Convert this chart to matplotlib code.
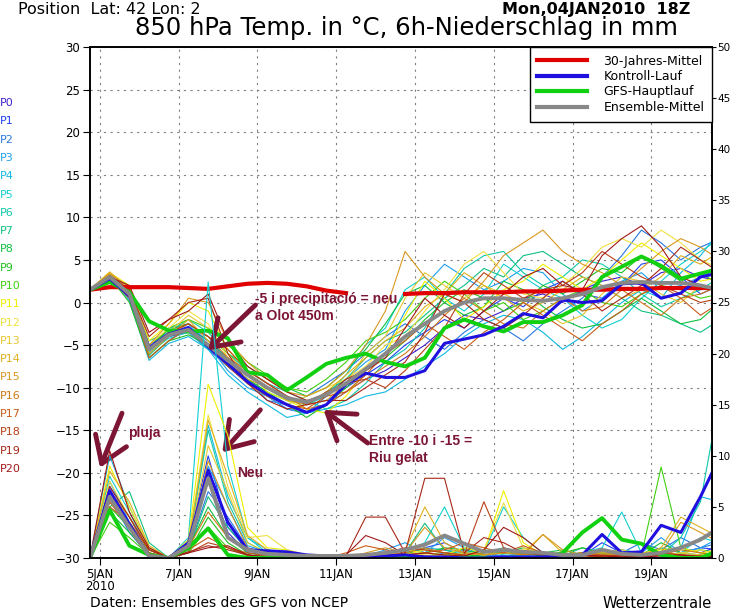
import numpy as np
import matplotlib
matplotlib.use("Agg")
import matplotlib.pyplot as plt
from matplotlib.lines import Line2D

# time axis: hours after 04JAN2010 18Z, 12-hourly
hours = np.arange(0, 385, 12)
tick_hours = [6, 54, 102, 150, 198, 246, 294, 342]
tick_labels = ["5JAN\n2010", "7JAN", "9JAN", "11JAN", "13JAN", "15JAN", "17JAN", "19JAN"]

# 850 hPa temperature (deg C)
clim_t = [1.5, 1.8, 1.8, 1.8, 1.8, 1.7, 1.6, 1.9, 2.2, 2.3, 2.2, 1.9, 1.4, 1.1, np.nan, np.nan,
          1.0, 1.1, 1.1, 1.2, 1.2, 1.2, 1.3, 1.3, 1.4, 1.5, 1.5, 1.6, 1.6, 1.7, 1.7, 1.7, 1.7]
ctrl_t = [1.5, 2.8, 0.8, -5.3, -3.7, -3.0, -5.2, -7.2, -9.3, -10.8, -12.0, -12.9, -12.0, -9.6, -8.3, -8.8,
          -8.8, -8.0, -4.8, -4.3, -3.8, -2.8, -1.3, -1.8, 0.3, 0.0, 0.2, 2.2, 2.3, 0.5, 1.1, 3.0, 3.5]
gfs_t = [1.5, 2.4, 1.2, -2.2, -3.3, -3.4, -3.3, -4.2, -8.2, -8.5, -10.3, -8.8, -7.2, -6.5, -6.0, -7.0,
         -7.5, -6.5, -3.0, -2.0, -2.8, -3.4, -2.3, -2.3, -1.5, -0.3, 3.0, 4.2, 5.4, 4.3, 2.8, 3.4, 4.0]
mean_t = [1.5, 3.0, 1.0, -5.5, -3.8, -3.2, -5.0, -6.8, -8.5, -10.0, -11.2, -11.7, -10.8, -9.5, -7.8, -6.0,
          -4.0, -2.5, -1.0, 0.0, 0.5, 0.5, 0.3, 0.2, 0.5, 1.0, 1.8, 2.3, 2.4, 2.3, 2.3, 2.0, 1.5]

members_t = [
    [1.5, 2.8, 0.5, -6.0, -4.0, -3.5, -5.5, -7.5, -9.5, -11.0, -12.5, -13.0, -12.0, -10.5, -9.0, -8.0, -6.5, -5.0, -3.0, -1.5, -2.0, -1.0, 0.5, 1.0, 0.0, 1.5, 2.5, 3.0, 2.0, 3.5, 4.0, 3.0, 2.5],
    [1.6, 3.2, 1.2, -5.0, -3.5, -2.8, -4.5, -6.5, -8.0, -9.5, -11.0, -12.0, -11.5, -10.0, -8.5, -7.0, -5.0, -3.5, -2.0, -3.0, -1.0, 0.5, -0.5, 1.5, 2.5, 1.0, 0.5, 2.0, 4.5, 5.0, 3.0, 1.0, 2.0],
    [1.5, 2.5, 0.8, -6.5, -4.5, -3.0, -4.0, -7.0, -9.0, -11.5, -12.0, -11.0, -9.5, -8.0, -6.0, -4.0, -2.5, -4.0, -5.5, -3.5, -2.0, -3.0, -4.5, -2.5, -1.0, 0.5, 3.0, 5.5, 8.5, 7.0, 5.0, 6.5, 7.5],
    [1.4, 3.0, 1.5, -5.5, -3.0, -2.5, -5.0, -8.0, -10.0, -11.0, -12.5, -13.0, -11.0, -9.0, -7.0, -5.5, -1.0, 2.0, 4.5, 3.0, 1.5, 2.5, 4.0, 3.5, 1.0, -1.0, 0.5, 2.5, 3.5, 1.5, 2.0, 3.0, 4.0],
    [1.5, 3.3, 0.2, -6.8, -4.8, -4.0, -5.5, -8.5, -10.5, -12.0, -13.5, -13.0, -12.5, -12.0, -11.0, -10.5, -9.0, -7.5, -6.0, -4.0, -2.5, -1.5, -2.0, -3.5, -5.5, -4.0, -2.0, 0.0, 1.5, 0.5, 3.5, 5.5, 8.5],
    [1.5, 2.9, 1.0, -5.8, -4.2, -3.5, -5.5, -7.0, -9.0, -10.5, -11.5, -12.0, -11.0, -8.5, -5.0, -3.0, 1.5, 3.0, 0.5, -1.0, 1.0, 4.5, 3.0, 1.5, 0.5, -1.5, -3.0, -2.0, 0.5, 2.5, 4.5, 6.0, 7.5],
    [1.6, 3.4, 1.8, -4.5, -3.5, -2.0, -3.5, -6.0, -8.0, -9.5, -10.5, -11.5, -12.5, -11.5, -9.5, -7.0, -5.5, -3.0, 1.0, 4.0, 5.5, 6.0, 3.5, 2.0, 3.0, 5.0, 4.5, 3.0, 1.0, -0.5, 0.5, 1.5, 3.0],
    [1.5, 3.1, 0.5, -6.2, -4.0, -3.0, -4.5, -6.5, -8.5, -10.0, -11.5, -12.0, -10.5, -9.0, -6.5, -4.5, -3.5, -1.5, 0.5, 2.0, 4.0, 3.0, 5.5, 6.0, 4.5, 3.0, 2.0, 0.5, -1.0, -1.5, -2.5, -3.5, -2.0],
    [1.5, 2.6, 1.0, -5.0, -3.2, -2.5, -4.0, -6.0, -7.5, -9.0, -10.0, -11.0, -10.0, -8.0, -5.5, -2.5, 1.0, 2.0, 0.0, -1.5, -0.5, 2.5, 1.5, -0.5, -2.0, -3.0, -2.5, -1.0, 0.5, -1.0, -2.5, -2.0, 0.0],
    [1.5, 3.0, 0.0, -6.5, -4.5, -3.8, -5.0, -7.5, -9.0, -10.5, -12.0, -13.5, -12.0, -10.0, -8.0, -6.5, -4.5, -2.0, 0.0, 1.5, 0.5, -1.0, 0.0, 2.0, 1.0, 2.5, 4.0, 3.5, 5.5, 4.0, 2.5, 3.5, 2.0],
    [1.5, 2.7, 1.5, -5.5, -3.0, -2.0, -3.0, -5.0, -7.0, -8.5, -10.0, -10.5, -9.0, -7.0, -4.5, -3.5, -2.0, 0.5, 2.5, 1.0, -1.0, 0.0, -2.0, -1.0, 0.5, 1.5, 0.0, -0.5, 1.0, 2.0, 1.5, 0.5, 1.0],
    [1.5, 3.5, 2.0, -4.5, -2.5, 0.0, -1.0, -5.5, -8.0, -10.5, -11.5, -12.5, -13.0, -11.0, -8.0, -6.0, -1.5, 2.5, 0.5, -2.0, -0.5, 1.5, 2.5, 4.5, 3.0, 1.5, 3.0, 5.0, 7.0, 5.5, 4.0, 2.5, 3.0],
    [1.4, 3.3, 1.2, -5.0, -3.0, -1.0, -2.5, -6.5, -9.5, -11.0, -12.0, -11.0, -10.0, -9.0, -7.5, -5.0, -4.0, -1.0, 1.5, 4.5, 6.0, 3.5, 1.0, 0.5, 2.0, 4.0, 6.5, 7.5, 6.5, 8.5, 7.0, 5.0, 4.0],
    [1.5, 3.2, 0.8, -5.5, -3.5, -1.5, -3.0, -6.0, -8.5, -10.0, -11.0, -12.0, -11.5, -9.5, -6.0, -4.0, 0.5, 3.5, 2.0, 0.5, 2.0, 1.0, 0.0, -1.0, -2.5, -1.5, 1.0, 3.0, 2.5, 1.0, 0.0, 2.0, 1.5],
    [1.5, 3.6, 1.5, -6.0, -4.0, -2.0, -4.5, -7.0, -9.0, -10.0, -11.5, -12.0, -10.5, -8.5, -6.5, -4.5, -3.0, -0.5, 1.0, 3.5, 2.0, 0.5, -1.0, 0.0, 1.5, 3.0, 2.0, 0.5, 1.5, 3.0, 5.5, 4.5, 6.0],
    [1.6, 3.4, 1.8, -5.0, -2.5, 0.5, 0.0, -4.5, -7.0, -9.0, -10.5, -11.0, -10.0, -8.0, -5.0, -1.0, 6.0, 3.0, 1.0, 0.0, 2.5, 5.5, 7.0, 8.5, 6.0, 4.5, 3.5, 2.0, 4.0, 6.0, 7.5, 6.5, 5.0],
    [1.5, 3.0, 1.0, -5.5, -3.8, -2.5, -4.0, -6.5, -8.0, -9.5, -11.0, -12.5, -12.0, -10.5, -9.0, -7.5, -6.0, -4.0, -1.5, 0.5, -1.0, -2.5, -3.0, -1.0, 0.5, -1.0, -0.5, 1.5, 0.0, -1.5, 0.5, 1.0, 2.0],
    [1.5, 3.1, 0.8, -6.5, -4.5, -3.0, -5.0, -7.5, -9.5, -11.0, -12.0, -12.5, -11.0, -10.5, -8.5, -6.0, -4.5, -2.5, -4.0, -5.5, -3.5, -2.0, 0.0, -1.5, -3.0, -4.5, -2.5, -1.0, 1.0, 2.0, 0.5, -1.5, 0.0],
    [1.4, 2.8, 0.5, -5.5, -3.5, -2.5, -4.0, -5.5, -8.0, -9.5, -11.0, -12.0, -10.5, -9.5, -9.0, -10.0, -8.0, -5.5, -3.0, 1.0, 3.5, 2.0, 0.5, 1.5, 2.0, 3.5, 6.0, 4.5, 3.0, 2.0, 1.0, 0.0, 0.5],
    [1.5, 3.2, 1.5, -4.0, -2.0, 0.0, 0.5, -6.0, -9.5, -11.5, -12.5, -12.0, -11.5, -11.5, -10.0, -8.5, -7.0, -3.5, 1.0, 0.0, -2.0, -3.0, -1.5, 0.5, 2.5, 1.0, -1.0, 0.5, 2.0, 4.0, 6.5, 5.0, 3.5],
    [1.5, 3.0, 2.0, -3.5, -2.0, -1.0, 1.0, -4.5, -7.5, -9.0, -10.5, -11.5, -11.0, -9.0, -8.0, -6.5, -3.0, 0.5, -1.5, -3.0, -1.0, 1.0, 3.0, 4.0, 2.0, 1.5, 5.5, 7.5, 9.0, 6.5, 3.0, 2.0, 1.5],
]

# 6h precipitation (mm)
ctrl_p = [0, 6.6, 3.3, 0.2, 0, 1.5, 8.6, 3.5, 0.8, 0.7, 0.6, 0.3, 0.2, 0.1, 0.1, 0.2,
          0.3, 0.1, 0.1, 0, 0, 0.1, 0.1, 0.1, 0.3, 0.3, 2.3, 0.5, 0.6, 3.2, 2.5, 6.0, 10.0]
gfs_p = [0, 4.7, 1.2, 0.3, 0, 1.0, 2.9, 0.3, 0, 0, 0, 0, 0, 0, 0, 0,
         0, 0, 0, 0, 0, 0, 0, 0, 0.5, 2.5, 3.9, 1.8, 1.4, 0.3, 0, 0, 0.8]
mean_p = [0, 6.0, 3.0, 0.2, 0, 1.2, 7.8, 2.0, 0.8, 0.4, 0.3, 0.2, 0.2, 0.2, 0.3, 0.5,
          0.8, 1.3, 2.2, 1.4, 0.6, 0.8, 0.6, 0.5, 0.3, 0.3, 0.8, 0.4, 0.3, 0.5, 1.0, 1.8, 3.0]

members_p = [
    [0, 5.5, 3.0, 0.3, 0, 1.2, 8.0, 2.5, 0.5, 0.3, 0.2, 0.1, 0, 0, 0.2, 0.3, 0.5, 0.2, 0.3, 0, 0, 0.2, 0, 0, 0.5, 0.3, 0.8, 0.2, 0, 0.5, 1.0, 0.5, 1.2],
    [0, 7.0, 4.0, 0.5, 0, 1.5, 10.0, 3.0, 0.8, 0.5, 0.3, 0, 0, 0, 0, 0.2, 0.3, 1.0, 1.5, 0.5, 0.2, 0.5, 0.3, 0, 0, 0.2, 1.5, 0.5, 0.3, 0, 0.5, 1.0, 0.8],
    [0, 6.0, 2.5, 0.2, 0, 0.8, 6.5, 4.0, 1.0, 0.4, 0.2, 0.2, 0, 0, 0.3, 0.5, 0.2, 0, 0.5, 0.8, 0.3, 0.2, 0, 0.3, 0.2, 0, 0.3, 0.5, 1.5, 0.8, 2.0, 1.0, 1.5],
    [0, 7.5, 3.5, 0.8, 0, 1.0, 9.0, 5.0, 1.2, 0.6, 0.3, 0.1, 0, 0, 0.2, 0.8, 1.5, 0.5, 2.0, 1.0, 0.3, 0.5, 0.2, 0, 0.3, 0.5, 0.2, 0.3, 0.5, 2.0, 0.5, 1.0, 2.0],
    [0, 10.0, 5.0, 1.0, 0, 1.5, 13.0, 6.0, 2.0, 0.8, 0.5, 0.2, 0.1, 0, 0, 0.3, 0.5, 1.0, 0.8, 0.5, 0.2, 0.8, 0.5, 0.3, 0.1, 0.3, 0.5, 0.5, 0.3, 0.5, 1.0, 6.0, 5.5],
    [0, 8.0, 4.5, 0.5, 0, 2.0, 27.0, 9.0, 2.0, 0.5, 0.3, 0.2, 0, 0, 0.2, 0.3, 0.5, 1.5, 5.0, 1.0, 0.5, 5.0, 2.0, 0.5, 0.3, 0.5, 1.0, 4.5, 0.5, 0.3, 0.5, 2.0, 1.5],
    [0, 6.5, 3.5, 0.3, 0, 1.2, 12.5, 5.5, 1.5, 0.5, 0.3, 0.1, 0, 0, 0.1, 0.4, 0.8, 0.5, 0.3, 0.5, 0.8, 0.3, 0.2, 0.5, 0.3, 0.2, 0.5, 0.8, 0.5, 0.3, 2.0, 5.5, 16.0],
    [0, 5.0, 6.5, 1.5, 0, 0.8, 6.0, 3.0, 0.8, 0.3, 0.2, 0, 0, 0, 0, 0.2, 0.5, 3.4, 0.8, 0.3, 0.5, 1.0, 0.5, 0.3, 0.2, 1.0, 0.5, 0.3, 0.2, 1.0, 0.5, 0.3, 0.5],
    [0, 4.5, 2.5, 0.5, 0, 1.0, 5.0, 2.0, 0.5, 0.2, 0.1, 0, 0, 0, 0, 0.1, 0.3, 0.5, 1.0, 0.8, 0.3, 0.5, 1.0, 0.5, 0.8, 0.3, 0.2, 0.5, 0.3, 1.5, 0.5, 0.8, 0.5],
    [0, 5.0, 3.0, 0.8, 0, 0.6, 4.0, 1.5, 0.3, 0.1, 0, 0, 0, 0, 0, 0.2, 0.4, 0.8, 0.5, 0.2, 0.3, 0.6, 0.4, 0.2, 0.5, 1.0, 0.5, 0.3, 0.2, 0.5, 0.3, 0.2, 0.4],
    [0, 3.5, 2.0, 0.3, 0, 0.5, 3.0, 1.0, 0.2, 0, 0, 0, 0, 0, 0, 0.1, 0.2, 0.5, 0.3, 0.2, 0.5, 0.8, 0.5, 0.3, 0.2, 0.5, 0.3, 0.2, 0.3, 8.9, 1.0, 0.5, 0.3],
    [0, 9.0, 5.0, 1.0, 0, 1.8, 17.0, 12.0, 3.0, 1.0, 0.8, 0.3, 0.1, 0, 0.2, 0.5, 0.8, 0.5, 0.3, 1.0, 0.5, 6.6, 1.5, 0.3, 0.2, 0.5, 0.3, 0.2, 0.5, 0.8, 1.0, 0.5, 0.8],
    [0, 7.5, 4.0, 0.8, 0, 1.5, 14.0, 7.0, 2.0, 2.2, 0.8, 0.3, 0.2, 0.1, 0.3, 0.5, 0.3, 0.8, 0.5, 0.3, 0.8, 5.4, 1.0, 0.5, 0.3, 0.5, 0.2, 0.3, 0.5, 0.2, 0.5, 0.8, 0.3],
    [0, 6.0, 3.5, 0.5, 0, 1.2, 11.0, 6.5, 1.5, 0.5, 0.3, 0.1, 0, 0, 0.1, 0.3, 0.5, 0.3, 0.2, 0.5, 0.3, 0.5, 0.8, 0.5, 0.2, 0.3, 0.5, 0.8, 0.3, 0.2, 0.5, 0.3, 0.5],
    [0, 8.5, 5.5, 1.2, 0, 1.4, 13.5, 8.0, 2.2, 0.8, 0.4, 0.2, 0, 0, 0.2, 0.3, 0.8, 5.0, 1.5, 0.5, 0.3, 0.8, 0.5, 2.3, 0.5, 0.3, 0.2, 0.5, 0.3, 1.0, 4.0, 3.0, 2.0],
    [0, 6.5, 4.0, 0.8, 0, 1.0, 9.5, 5.0, 1.0, 0.4, 0.2, 0.1, 0, 0, 0.5, 1.0, 0.5, 3.0, 1.0, 0.5, 0.3, 0.5, 0.3, 2.3, 0.8, 0.3, 0.5, 0.3, 0.2, 0.5, 3.5, 2.5, 1.5],
    [0, 5.5, 3.0, 0.5, 0, 1.0, 4.5, 2.0, 0.8, 0.3, 0.2, 0, 0, 0, 0.2, 0.3, 0.5, 1.0, 0.5, 0.3, 0.5, 0.8, 0.3, 0.5, 0.3, 0.5, 0.3, 0.2, 0.5, 0.3, 0.8, 0.5, 0.3],
    [0, 5.0, 3.5, 0.8, 0, 0.8, 2.0, 1.0, 0.5, 0.2, 0.1, 0, 0, 0.5, 1.2, 0.8, 0.3, 0.5, 0.8, 1.5, 1.0, 0.5, 1.2, 0.5, 0.3, 0.5, 0.3, 0.2, 0.3, 0.5, 0.3, 0.2, 0.3],
    [0, 6.0, 3.0, 0.5, 0, 0.5, 1.5, 1.0, 0.3, 0.1, 0, 0, 0, 0, 0.3, 0.5, 1.0, 0.8, 0.5, 0.3, 5.5, 1.0, 0.5, 0.3, 0.2, 0.1, 0.2, 0.3, 0.2, 0.5, 0.3, 0.2, 0.1],
    [0, 7.0, 4.0, 0.8, 0, 0.6, 1.2, 0.8, 0.3, 0.1, 0, 0, 0, 0.2, 4.0, 4.0, 0.5, 7.8, 7.8, 0.5, 2.0, 1.5, 0.5, 0.3, 0.2, 0.3, 0.1, 0.2, 0.1, 0.3, 0.2, 0.1, 0.2],
    [0, 10.5, 4.5, 1.0, 0, 0.5, 1.0, 1.2, 0.3, 0.1, 0.1, 0, 0, 0.3, 2.2, 1.5, 0.3, 0.5, 0.3, 0.2, 0.8, 3.0, 2.0, 0.5, 0.2, 0.3, 0.2, 0.1, 0.1, 0.2, 0.3, 0.1, 0.1],
]

member_colors = ["#4020d0", "#2040f0", "#2878e0", "#1e9ef0", "#10b8e0", "#10d0d0", "#10c8a8",
                 "#10c080", "#10c040", "#20c020", "#40d010", "#f0f000", "#f0e040", "#e8c830",
                 "#e0b020", "#d89820", "#d07818", "#c85c18", "#b84018", "#a82818", "#a01818"]

C_RED, C_BLUE, C_GREEN, C_GRAY = "#e00000", "#2010e0", "#10d010", "#888888"
MAROON = "#7d1535"

fig = plt.figure(figsize=(7.3, 6.09), dpi=100)
ax = fig.add_axes([90 / 730, 1 - 558 / 609, 622 / 730, 511 / 609])
ax2 = ax.twinx()

# temperatures
for vals, col in zip(members_t, member_colors):
    ax.plot(hours, vals, color=col, lw=0.8)
ax.plot(hours, clim_t, color=C_RED, lw=3)
ax.plot(hours, gfs_t, color=C_GREEN, lw=2.8)
ax.plot(hours, ctrl_t, color=C_BLUE, lw=2.2)
ax.plot(hours, mean_t, color=C_GRAY, lw=2.8)

# precipitation
for vals, col in zip(members_p, member_colors):
    ax2.plot(hours, vals, color=col, lw=0.8)
ax2.plot(hours, gfs_p, color=C_GREEN, lw=2.8)
ax2.plot(hours, ctrl_p, color=C_BLUE, lw=2.2)
ax2.plot(hours, mean_p, color=C_GRAY, lw=2.8)

ax.set_xlim(0, 379)
ax.set_ylim(-30, 30)
ax2.set_ylim(0, 50)
ax.set_yticks(np.arange(-30, 31, 5))
ax2.set_yticks(np.arange(0, 51, 5))
ax.set_xticks(tick_hours)
ax.set_xticklabels(tick_labels, fontsize=8, linespacing=0.95)
ax.tick_params(axis="both", direction="out", length=5, labelsize=8.5, pad=2)
ax2.tick_params(axis="y", direction="out", length=3, labelsize=7.5, pad=1)
ax.grid(True, linestyle=(0, (2, 4)), color="#808080", lw=0.8)
ax.set_axisbelow(True)
for a in (ax, ax2):
    for s in a.spines.values():
        s.set_linewidth(1.2)

handles = [Line2D([], [], color=c, lw=3) for c in (C_RED, C_BLUE, C_GREEN, C_GRAY)]
labels = ["30-Jahres-Mittel", "Kontroll-Lauf", "GFS-Hauptlauf", "Ensemble-Mittel"]
leg = ax2.legend(handles, labels, loc="upper right", fancybox=False, edgecolor="black",
                 framealpha=1, borderaxespad=0, handlelength=4, fontsize=9,
                 labelspacing=0.2, borderpad=0.6, handletextpad=1.3)
leg.get_frame().set_linewidth(1.0)

# member labels on the left
for k, col in enumerate(member_colors):
    fig.text(0.0, 1 - (103 + 18.3 * k) / 609, "P%d" % k, color=col, fontsize=8, va="center")

fig.text(18 / 730, 1 - 14 / 609, "Position  Lat: 42 Lon: 2", fontsize=11.5, va="baseline")
fig.text(690 / 730, 1 - 14 / 609, "Mon,04JAN2010  18Z", fontsize=11.5, weight="bold",
         ha="right", va="baseline")
fig.text(406 / 730, 1 - 35 / 609, "850 hPa Temp. in °C, 6h-Niederschlag in mm",
         fontsize=17.5, ha="center", va="baseline")
fig.text(90 / 730, 1 - 603 / 609, "Daten: Ensembles des GFS von NCEP", fontsize=10, va="center")
fig.text(712 / 730, 1 - 603 / 609, "Wetterzentrale", fontsize=10.5, ha="right", va="center")

# hand-drawn annotations
afont = dict(color=MAROON, fontsize=10, weight="bold", family="Liberation Sans")
aprops = dict(arrowstyle="->,head_length=0.9,head_width=0.6", lw=3.5, color=MAROON,
              mutation_scale=20, shrinkA=0, shrinkB=0)
ax.text(100.8, -0.6, "-5 i precipitació = neu\na Olot 450m", ha="left", va="center",
        linespacing=1.25, **afont)
ax.text(23.2, -15.3, "pluja", ha="left", va="center", **afont)
ax.text(89.8, -20.0, "Neu", ha="left", va="center", **afont)
ax.text(169.8, -17.3, "Entre -10 i -15 =\nRiu gelat", ha="left", va="center",
        linespacing=1.25, **afont)
ax.annotate("", xy=(72.1, -5.6), xytext=(100.8, -0.3), arrowprops=aprops)
ax.annotate("", xy=(80.6, -17.6), xytext=(103.8, -12.6), arrowprops=aprops)
ax.annotate("", xy=(6.1, -19.4), xytext=(19.5, -13.0), arrowprops=aprops)
ax.annotate("", xy=(142.3, -12.6), xytext=(169.2, -16.5), arrowprops=aprops)

fig.savefig("out.png", dpi=100)
